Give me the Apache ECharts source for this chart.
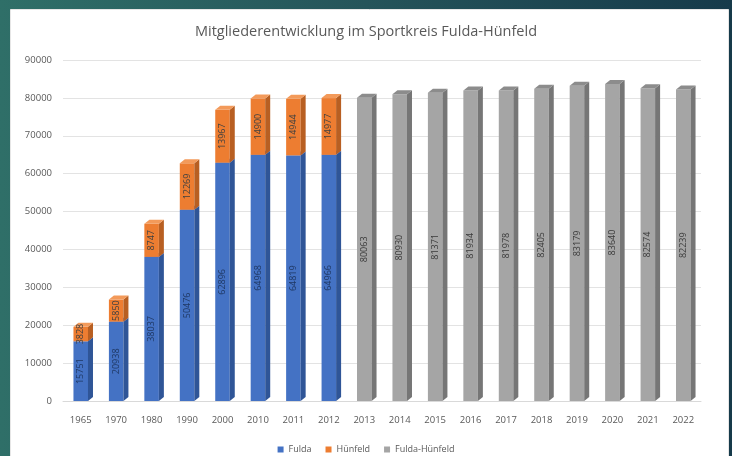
<!DOCTYPE html>
<html>
<head>
<meta charset="utf-8">
<script src="https://cdn.jsdelivr.net/npm/echarts@6/dist/echarts.min.js"></script>
<style>
html,body{margin:0;padding:0;}
#main{width:732px;height:456px;}
</style>
</head>
<body>
<div id="main"></div>
<script>
// Jahre (Kategorien)
const years = ['1965','1970','1980','1990','2000','2010','2011','2012','2013','2014','2015','2016','2017','2018','2019','2020','2021','2022'];
// Mitglieder Fulda / Hünfeld bis 2012, danach zusammengelegt
const fulda = [15751, 20938, 38037, 50476, 62896, 64968, 64819, 64966];
const huenfeld = [3828, 5850, 8747, 12269, 13967, 14900, 14944, 14977];
const fuldaHuenfeld = [null, null, null, null, null, null, null, null,
  80063, 80930, 81371, 81934, 81978, 82405, 83179, 83640, 82574, 82239];
const yTicks = [0, 10000, 20000, 30000, 40000, 50000, 60000, 70000, 80000, 90000];

const FONT = '"Open Sans", "Noto Sans", sans-serif';

// 3D-Säule: Vorderseite, Seite, Deckel + gedrehte Beschriftung
function bar3d(name, vals, bases, front, side, top, labelColor) {
  const data = [];
  vals.forEach((v, i) => {
    if (v == null) return;
    const b = bases ? bases[i] : 0;
    data.push([i, b, v, b + v]);
  });
  return {
    type: 'custom',
    name: name,
    itemStyle: { color: front },
    clip: false,
    encode: { x: 0, y: [1, 3] },
    data: data,
    renderItem: function (params, api) {
      const i = api.value(0), b = api.value(1), v = api.value(2), t = api.value(3);
      const p0 = api.coord([i, b]);
      const p1 = api.coord([i, t]);
      const w = api.size([1, 0])[0] * 0.41;
      const dx = 5, dy = 4;
      const x0 = p0[0] - w / 2;
      const yb = p0[1], yt = p1[1];
      return {
        type: 'group',
        children: [
          { type: 'rect', shape: { x: x0, y: yt, width: w, height: yb - yt }, style: { fill: front } },
          { type: 'polygon', shape: { points: [[x0 + w, yt], [x0 + w + dx, yt - dy], [x0 + w + dx, yb - dy], [x0 + w, yb]] }, style: { fill: side } },
          { type: 'polygon', shape: { points: [[x0, yt], [x0 + dx, yt - dy], [x0 + w + dx, yt - dy], [x0 + w, yt]] }, style: { fill: top } },
          {
            type: 'text', x: x0 + w / 2, y: (yb + yt) / 2, rotation: Math.PI / 2,
            style: { text: String(v), align: 'center', verticalAlign: 'middle', fill: labelColor, font: '9px ' + FONT }
          }
        ]
      };
    }
  };
}

const myChart = echarts.init(document.getElementById('main'));
const option = {
  backgroundColor: {
    type: 'linear', x: 0, y: 0, x2: 1, y2: 0,
    colorStops: [{ offset: 0, color: '#2f6f68' }, { offset: 0.5, color: '#25545a' }, { offset: 1, color: '#163a4a' }]
  },
  graphic: [
    { type: 'rect', left: 10, top: 9, shape: { width: 718, height: 460 }, style: { fill: '#ffffff', stroke: '#e6e6e6' }, z: -10 }
  ],
  title: {
    text: 'Mitgliederentwicklung im Sportkreis Fulda-Hünfeld',
    left: 'center', top: 19,
    textStyle: { fontFamily: FONT, fontSize: 14.5, fontWeight: 'normal', color: '#595959' }
  },
  legend: {
    top: 440, left: 'center',
    icon: 'rect', itemWidth: 6, itemHeight: 6, itemGap: 14,
    textStyle: { fontFamily: FONT, fontSize: 9, color: '#595959' },
    data: ['Fulda', 'Hünfeld', 'Fulda-Hünfeld']
  },
  grid: { left: 63, right: 31, top: 60, bottom: 55 },
  xAxis: {
    type: 'category',
    data: years,
    axisTick: { show: false },
    axisLine: { lineStyle: { color: '#d9d9d9' } },
    axisLabel: { margin: 14, fontFamily: FONT, fontSize: 9.5, color: '#595959' }
  },
  yAxis: {
    type: 'value',
    min: yTicks[0], max: yTicks[yTicks.length - 1], interval: 10000,
    axisLabel: { margin: 11, fontFamily: FONT, fontSize: 9.5, color: '#595959', formatter: v => String(v) },
    splitLine: { lineStyle: { color: '#e3e3e3' } },
    axisLine: { show: false }, axisTick: { show: false }
  },
  series: [
    bar3d('Fulda', fulda, null, '#4472c4', '#2f5597', '#5b86d6', '#1f3864'),
    bar3d('Hünfeld', huenfeld, fulda, '#ed7d31', '#b85f22', '#f39a5a', '#404040'),
    bar3d('Fulda-Hünfeld', fuldaHuenfeld, null, '#a5a5a5', '#767676', '#8c8c8c', '#3a3a3a')
  ]
};
myChart.setOption(option);
window.addEventListener('resize', () => { myChart.resize(); });
</script>
</body>
</html>
